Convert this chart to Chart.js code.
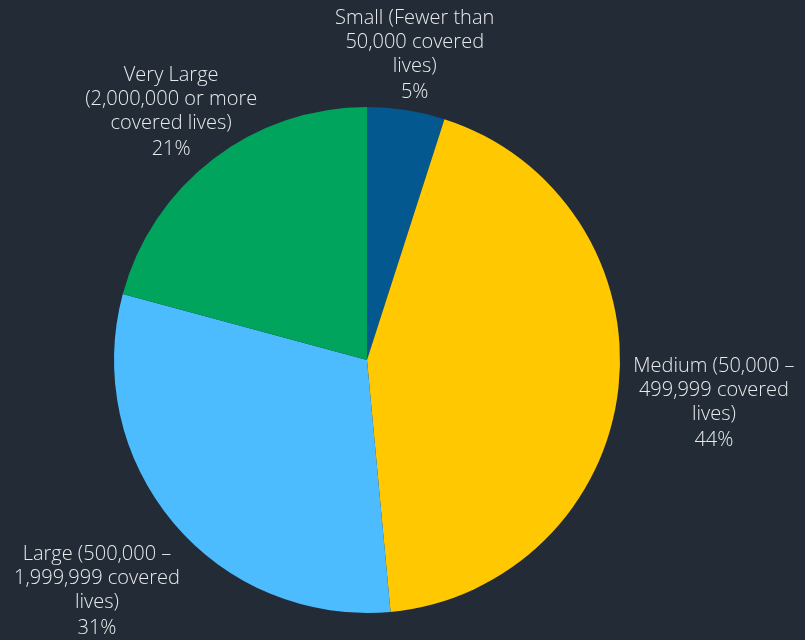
<!DOCTYPE html>
<html lang="en">
<head>
  <meta charset="UTF-8" />
  <title>Plan size distribution</title>
  <script src="https://cdn.jsdelivr.net/npm/chart.js"></script>
  <style>
    html, body {
      margin: 0;
      padding: 0;
      background: #222b36;
    }
    #wrap {
      width: 805px;
      height: 640px;
    }
  </style>
</head>
<body>

<div id="wrap">
  <canvas id="myChart" width="805" height="640"></canvas>
</div>

<script>
  // Plan size categories and their share of plans (%)
  const categories = [
    ['Small (Fewer than', '50,000 covered', 'lives)'],
    ['Medium (50,000 –', '499,999 covered', 'lives)'],
    ['Large (500,000 –', '1,999,999 covered', 'lives)'],
    ['Very Large', '(2,000,000 or more', 'covered lives)']
  ];
  const shares = [5, 44, 31, 21];
  const sliceColors = ['#02588f', '#ffc800', '#4dbcff', '#00a45c'];

  // how far each label block sits outside the pie, plus a small x/y nudge
  const labelRadial = [55, 96, 100, 61];
  const labelNudge = [[0, 0], [0, 5], [0, 4], [-5, 2]];

  const outsideLabels = {
    id: 'outsideLabels',
    afterDraw(chart) {
      const c = chart.ctx;
      const meta = chart.getDatasetMeta(0);
      const total = shares.reduce((a, b) => a + b, 0);
      c.save();
      c.fillStyle = '#e8eaec';
      c.font = '300 20px "Open Sans"';
      c.textAlign = 'center';
      c.textBaseline = 'middle';
      meta.data.forEach((arc, i) => {
        const mid = (arc.startAngle + arc.endAngle) / 2;
        const r = arc.outerRadius + labelRadial[i];
        const cx = arc.x + Math.cos(mid) * r + labelNudge[i][0];
        const cy = arc.y + Math.sin(mid) * r + labelNudge[i][1];
        const lines = categories[i];
        const pct = Math.round(shares[i] / total * 100) + '%';
        const lh = 24;
        const blockH = lines.length * lh + 26;
        let y = cy - blockH / 2 + lh / 2;
        lines.forEach(t => {
          c.fillText(t, cx, y);
          y += lh;
        });
        c.fillText(pct, cx, y + 2);
      });
      c.restore();
    }
  };

  const ctx = document.getElementById('myChart').getContext('2d');

  new Chart(ctx, {
    type: 'pie',
    data: {
      labels: categories.map(l => l.join(' ')),
      datasets: [{
        data: shares,
        backgroundColor: sliceColors,
        borderWidth: 0
      }]
    },
    options: {
      responsive: false,
      animation: false,
      layout: {
        padding: { top: 107, bottom: 27, left: 114, right: 185 }
      },
      plugins: {
        legend: { display: false },
        tooltip: { enabled: false }
      }
    },
    plugins: [outsideLabels]
  });
</script>

</body>
</html>
